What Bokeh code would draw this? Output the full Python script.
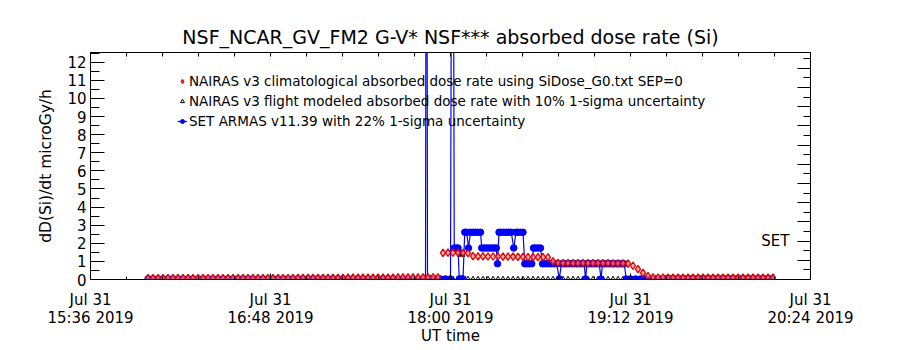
import pandas as pd
from bokeh.plotting import figure
from bokeh.models import (FixedTicker, LinearAxis, Range1d, Legend, LegendItem,
                          Label, Whisker, ColumnDataSource, TeeHead, CustomJSTickFormatter)
from bokeh.embed import file_html
from bokeh.resources import INLINE

START = pd.Timestamp("2019-07-31 15:36")
TITLE = "NSF_NCAR_GV_FM2 G-V* NSF*** absorbed dose rate (Si)"
Y_LABEL = "dD(Si)/dt microGy/h"
X_LABEL = "UT time"
TICK_MIN = [0, 72, 144, 216, 288]
TICK_LABELS = ["Jul 31\n15:36 2019", "Jul 31\n16:48 2019", "Jul 31\n18:00 2019",
               "Jul 31\n19:12 2019", "Jul 31\n20:24 2019"]
LEG_CLIM = "NAIRAS v3 climatological absorbed dose rate using SiDose_G0.txt SEP=0"
LEG_FLIGHT = "NAIRAS v3 flight modeled absorbed dose rate with 10% 1-sigma uncertainty"
LEG_SET = "SET ARMAS v11.39 with 22% 1-sigma uncertainty"

# NAIRAS climatological: 2-min cadence starting 23 min after 15:36
clim_start, clim_step = 23, 2
clim_vals = [
    0.07, 0.07, 0.07, 0.07, 0.07, 0.07, 0.07, 0.07, 0.07, 0.07,
    0.07, 0.07, 0.07, 0.07, 0.07, 0.08, 0.08, 0.08, 0.08, 0.08,
    0.08, 0.08, 0.08, 0.08, 0.08, 0.08, 0.08, 0.08, 0.08, 0.08,
    0.09, 0.09, 0.09, 0.09, 0.09, 0.09, 0.09, 0.09, 0.09, 0.09,
    0.10, 0.10, 0.10, 0.10, 0.10, 0.10, 0.10, 0.10, 0.10, 0.10,
    0.12, 0.12, 0.12, 0.12, 0.12, 0.12, 0.12, 0.12, 0.12,
    1.47, 1.48, 1.49, 1.48, 1.47, 1.46,
    1.29, 1.28, 1.28, 1.27, 1.27, 1.27, 1.26, 1.26, 1.26, 1.25,
    1.25, 1.24, 1.24, 1.23, 1.23, 1.22,
    1.00,
    0.92, 0.91, 0.91, 0.90, 0.90, 0.90, 0.90, 0.90, 0.90, 0.90,
    0.90, 0.89, 0.89, 0.89, 0.88,
    0.76, 0.57, 0.37, 0.19,
    0.12, 0.11, 0.11, 0.10, 0.10, 0.10, 0.10, 0.10, 0.10, 0.10,
    0.10, 0.10, 0.10, 0.10, 0.10, 0.10, 0.10, 0.10, 0.10, 0.10,
    0.10, 0.10, 0.10, 0.10, 0.10,
]

# NAIRAS flight modeled: 2-min cadence baseline
flight_start, flight_step = 23, 2
flight_vals = [
    0.02, 0.02, 0.02, 0.02, 0.02, 0.02, 0.02, 0.02, 0.02, 0.02,
    0.02, 0.02, 0.02, 0.02, 0.02, 0.02, 0.02, 0.02, 0.02, 0.02,
    0.02, 0.02, 0.02, 0.02, 0.02, 0.02, 0.02, 0.02, 0.02, 0.02,
    0.02, 0.02, 0.02, 0.02, 0.02, 0.02, 0.02, 0.02, 0.02, 0.02,
    0.02, 0.02, 0.02, 0.02, 0.02, 0.02, 0.02, 0.02, 0.02, 0.02,
    0.02, 0.02, 0.02, 0.02, 0.02, 0.02, 0.02, 0.02, 0.02, 0.02,
    0.02, 0.02, 0.02, 0.02, 0.02, 0.02, 0.02, 0.02, 0.02, 0.02,
    0.02, 0.02, 0.02, 0.02, 0.02, 0.02, 0.02, 0.02, 0.02, 0.02,
    0.02, 0.02, 0.02, 0.02, 0.02, 0.02, 0.02, 0.02, 0.02, 0.02,
    0.02, 0.02, 0.02, 0.02, 0.02, 0.02, 0.02, 0.02, 0.02, 0.02,
    0.02, 0.02, 0.02, 0.02, 0.02, 0.02, 0.02, 0.02, 0.02, 0.02,
    0.02, 0.02, 0.02, 0.02, 0.02, 0.02, 0.02, 0.02, 0.02, 0.02,
    0.02, 0.02, 0.02, 0.02, 0.02, 0.02,
]
# flight-modeled points with 10% 1-sigma error bars
flight_err_min = [148.2, 210.0]
flight_err_val = [1.45, 0.85]
flight_err_frac = 0.10

# SET ARMAS
blue_pre_start, blue_pre_step = 23, 2
blue_pre_vals = [
    0.03, 0.03, 0.03, 0.03, 0.03, 0.03, 0.03, 0.03, 0.03, 0.03,
    0.03, 0.03, 0.03, 0.03, 0.03, 0.03, 0.03, 0.03, 0.03, 0.03,
    0.03, 0.03, 0.03, 0.03, 0.03, 0.03, 0.03, 0.03, 0.03, 0.03,
    0.03, 0.03, 0.03, 0.03, 0.03, 0.03, 0.03, 0.03, 0.03, 0.03,
    0.03, 0.03, 0.03, 0.03, 0.03, 0.03, 0.03, 0.03, 0.03, 0.03,
    0.03, 0.03, 0.03, 0.03, 0.03, 0.03,
]
blue_burst_min = [
    134.0, 134.4, 134.8, 136.0, 138.0, 140.0, 142.0, 144.0, 144.8,
    145.5, 146.3, 147.0, 147.5, 148.2, 149.0, 149.7, 150.5, 151.2,
    152.0, 153.0, 154.0, 155.0, 156.0, 156.5, 157.5, 158.5, 159.5,
    160.5, 161.5, 162.3, 162.8, 163.4, 164.3, 165.3, 166.3, 167.3,
    168.3, 169.3, 170.2, 171.0, 172.0, 173.0, 173.7, 174.5, 175.5,
    176.5, 177.2, 178.0, 179.0, 180.0, 180.8, 181.5, 182.5, 183.5,
    184.5, 185.5, 186.5, 187.5, 188.4, 189.5, 190.5, 191.5, 192.5,
    193.5, 194.5, 195.5, 196.5, 197.5, 198.0, 198.6, 199.5, 200.5,
    201.5, 202.5, 203.5, 204.2, 204.8, 205.5, 206.5, 207.5, 208.5,
    209.5, 210.5, 211.5, 212.5, 213.5, 214.3,
]
blue_burst_vals = [
    0.03, 40.0, 0.03, 0.03, 0.03, 0.03, 0.03, 0.03, 40.0,
    1.74, 1.74, 1.74, 0.03, 0.03, 0.03, 2.61, 2.61, 1.74,
    2.61, 2.61, 2.61, 2.61, 2.61, 1.74, 1.74, 1.74, 1.74,
    1.74, 1.74, 1.74, 0.87, 2.61, 2.61, 2.61, 2.61, 2.61,
    2.61, 1.74, 2.61, 2.61, 2.61, 2.61, 0.87, 0.87, 0.87,
    0.87, 1.74, 1.74, 1.74, 1.74, 0.87, 0.87, 0.87, 0.87,
    0.87, 0.87, 0.87, 0.03, 0.87, 0.87, 0.87, 0.87, 0.87,
    0.87, 0.87, 0.87, 0.87, 0.87, 0.03, 0.87, 0.87, 0.87,
    0.87, 0.87, 0.87, 0.03, 0.87, 0.87, 0.87, 0.87, 0.87,
    0.87, 0.87, 0.87, 0.87, 0.87, 0.03,
]
blue_post_start, blue_post_step = 216, 2
blue_post_vals = [
    0.03, 0.03, 0.03, 0.03, 0.03, 0.03, 0.03, 0.03, 0.03, 0.03,
    0.03, 0.03, 0.03, 0.03, 0.03, 0.03, 0.03, 0.03, 0.03, 0.03,
    0.03, 0.03, 0.03, 0.03, 0.03, 0.03, 0.03, 0.03, 0.03,
]

SET_LABEL = "SET"
SET_LEVEL = 2

FONT = "DejaVu Sans"


def to_ms(minutes):
    return [(START + pd.Timedelta(minutes=m)).value // 10**6 for m in minutes]


def grid(start, step, vals):
    return [start + step * i for i in range(len(vals))]


clim_x = to_ms(grid(clim_start, clim_step, clim_vals))
flight_x = to_ms(grid(flight_start, flight_step, flight_vals))
blue_min = (grid(blue_pre_start, blue_pre_step, blue_pre_vals) + blue_burst_min
            + grid(blue_post_start, blue_post_step, blue_post_vals))
blue_vals = blue_pre_vals + blue_burst_vals + blue_post_vals
blue_x = to_ms(blue_min)

major_ms = to_ms(TICK_MIN)
minor_min = []
for a, b in zip(TICK_MIN[:-1], TICK_MIN[1:]):
    for k in range(1, 5):
        minor_min.append(a + (b - a) * k / 5)
minor_ms = to_ms(minor_min)

p = figure(width=900, height=350, x_axis_type="datetime",
           x_range=Range1d(major_ms[0], major_ms[-1]),
           y_range=Range1d(0, 12.54),
           output_backend="svg", toolbar_location=None,
           min_border_left=90, min_border_right=90,
           min_border_top=52, min_border_bottom=71)
p.extra_y_ranges = {"set": Range1d(0, 11.82)}
p.xgrid.visible = False
p.ygrid.visible = False
p.outline_line_color = "black"
p.background_fill_color = "white"
p.border_fill_color = "white"

p.title.text = TITLE
p.title.align = "center"
p.title.text_font = FONT
p.title.text_font_size = "19px"
p.title.text_font_style = "normal"
p.title.text_color = "black"

xa = p.xaxis[0]
xa.ticker = FixedTicker(ticks=major_ms, minor_ticks=minor_ms)
xa.major_label_overrides = {int(m): lab for m, lab in zip(major_ms, TICK_LABELS)}
xa.axis_label = X_LABEL
xa.major_label_text_font = FONT
xa.major_label_text_font_size = "15px"
xa.major_label_text_line_height = 1.05
xa.axis_label_text_font = FONT
xa.axis_label_text_font_size = "15px"
xa.axis_label_text_font_style = "normal"
xa.major_label_standoff = 11
xa.axis_label_standoff = -3
xa.major_tick_in = 6
xa.major_tick_out = 0
xa.minor_tick_in = 3
xa.minor_tick_out = 0

ya = p.yaxis[0]
ya.ticker = FixedTicker(ticks=list(range(0, 13)),
                        minor_ticks=[i + 0.5 for i in range(0, 13)])
ya.axis_label = Y_LABEL
ya.major_label_text_font = FONT
ya.major_label_text_font_size = "15px"
ya.axis_label_text_font = FONT
ya.axis_label_text_font_size = "15.5px"
ya.axis_label_text_font_style = "normal"
ya.major_label_standoff = 4
ya.axis_label_standoff = 9
ya.major_tick_in = 14
ya.major_tick_out = 0
ya.minor_tick_in = 9
ya.minor_tick_out = 0
ya.major_label_text_baseline = "alphabetic"

for ax in (xa, ya):
    ax.major_label_text_color = "black"
    ax.axis_label_text_color = "black"
    ax.axis_line_color = "black"
    ax.major_tick_line_color = "black"
    ax.minor_tick_line_color = "black"

# top box edge: ticks only (no labels)
top = LinearAxis(ticker=FixedTicker(ticks=[], minor_ticks=minor_ms + major_ms),
                 major_label_standoff=0,
                 major_tick_in=0, major_tick_out=0, minor_tick_in=4, minor_tick_out=0)
p.add_layout(top, "above")

# right box edge (SET scale): ticks only
blank = CustomJSTickFormatter(code="return ''")
right = LinearAxis(y_range_name="set",
                   ticker=FixedTicker(ticks=list(range(0, 12)),
                                      minor_ticks=[i + 0.5 for i in range(0, 12)]),
                   formatter=blank, major_label_standoff=0,
                   major_tick_in=13, major_tick_out=0, minor_tick_in=7, minor_tick_out=0)
p.add_layout(right, "right")

# data
r_flight = p.scatter(flight_x, flight_vals, marker="triangle", size=5,
                     line_color="black", fill_alpha=0, line_width=1)
p.scatter(to_ms(flight_err_min), flight_err_val, marker="triangle", size=5,
          line_color="black", fill_alpha=0, line_width=1)
r_blue_line = p.line(blue_x, blue_vals, line_color="#0000ff", line_width=1.2)
r_blue = p.scatter(blue_x, blue_vals, marker="circle", size=6.5,
                   line_color="#0000ff", fill_color="#0000ff")
r_clim = p.scatter(clim_x, clim_vals, marker="diamond", size=7.5,
                   line_color="#e00000", fill_color="#ff9090", fill_alpha=0.7,
                   line_width=1.3)

err_src = ColumnDataSource(dict(
    x=to_ms(flight_err_min),
    lo=[v * (1 - flight_err_frac) for v in flight_err_val],
    hi=[v * (1 + flight_err_frac) for v in flight_err_val]))
p.add_layout(Whisker(source=err_src, base="x", lower="lo", upper="hi",
                     line_color="black", line_width=1.5,
                     upper_head=TeeHead(size=8, line_color="black", line_width=1.5),
                     lower_head=TeeHead(size=8, line_color="black", line_width=1.5)))

legend = Legend(items=[LegendItem(label=LEG_CLIM, renderers=[r_clim]),
                       LegendItem(label=LEG_FLIGHT, renderers=[r_flight]),
                       LegendItem(label=LEG_SET, renderers=[r_blue_line, r_blue])],
                location=(87, 149), orientation="vertical",
                label_text_font=FONT, label_text_font_size="13.5px",
                label_text_color="black",
                label_height=18, glyph_height=18, glyph_width=10,
                label_standoff=2, spacing=2, padding=0, margin=0,
                border_line_alpha=0, background_fill_alpha=0)
p.add_layout(legend, "center")

set_x = (START + pd.Timedelta(minutes=279.6)).value // 10**6
p.add_layout(Label(x=set_x, y=SET_LEVEL, y_range_name="set", text=SET_LABEL,
                   text_align="right", text_baseline="alphabetic",
                   text_font=FONT, text_font_size="15px", text_color="black"))

open("out.html", "w").write(file_html(p, INLINE))
